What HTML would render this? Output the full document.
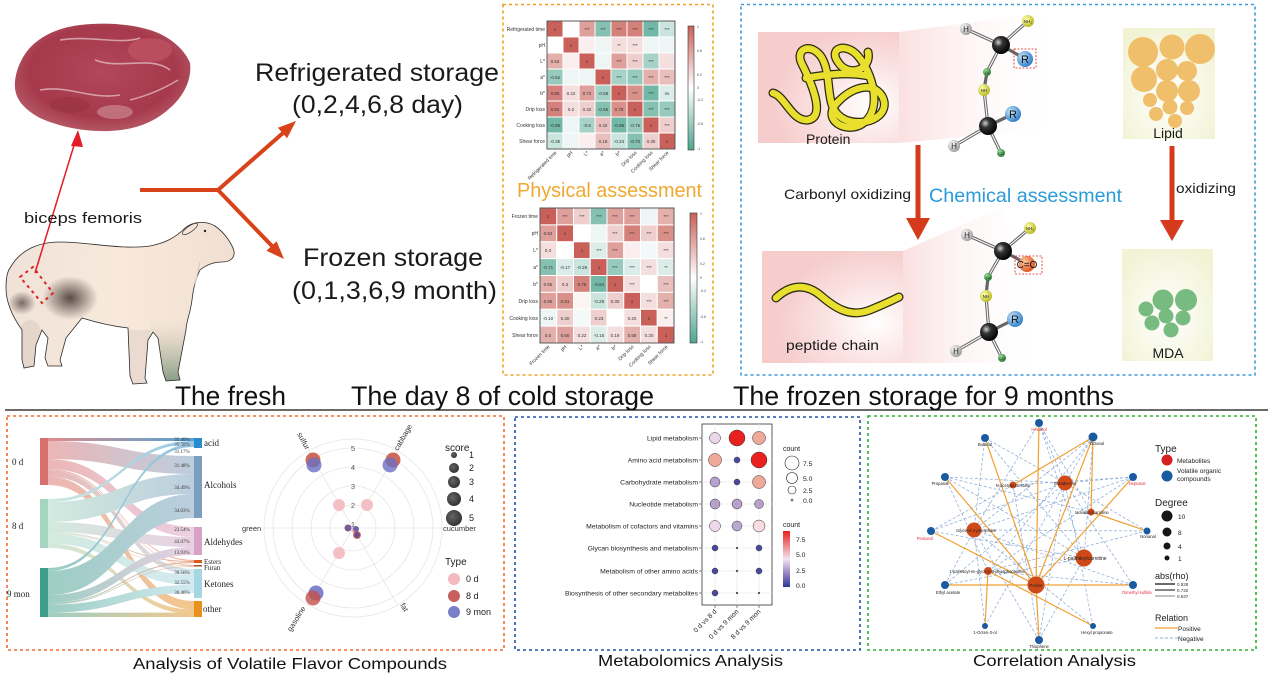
<!DOCTYPE html>
<html><head><meta charset="utf-8"><style>
html,body{margin:0;padding:0;background:#fff;}
svg{display:block;font-family:"Liberation Sans",sans-serif;}
.serif{font-family:"Liberation Serif",serif;}
</style></head><body>
<svg width="1270" height="676" viewBox="0 0 1270 676" xmlns="http://www.w3.org/2000/svg">
<defs>
<radialGradient id="meatG" cx="0.5" cy="0.45" r="0.6"><stop offset="0" stop-color="#b2465a"/><stop offset="0.7" stop-color="#a63a4c"/><stop offset="1" stop-color="#b9606c"/></radialGradient>
<linearGradient id="sheepG" x1="0" x2="1"><stop offset="0" stop-color="#efe2d8"/><stop offset="0.5" stop-color="#f8e9dc"/><stop offset="1" stop-color="#f1e0d2"/></linearGradient>
<radialGradient id="shadeA" cx="0.5" cy="0.5" r="0.5"><stop offset="0" stop-color="#4a3c34" stop-opacity="0.9"/><stop offset="1" stop-color="#4a3c34" stop-opacity="0"/></radialGradient>
<linearGradient id="legG" x1="0" y1="0" x2="0" y2="1"><stop offset="0" stop-color="#c8c2b0" stop-opacity="0"/><stop offset="1" stop-color="#7e9880"/></linearGradient>
<linearGradient id="cb1" x1="0" y1="0" x2="0" y2="1"><stop offset="0" stop-color="#c9605a"/><stop offset="0.5" stop-color="#ffffff"/><stop offset="1" stop-color="#4fa690"/></linearGradient>
<radialGradient id="protG" cx="0.8" cy="0.65" r="0.7"><stop offset="0" stop-color="#ffffff"/><stop offset="0.5" stop-color="#fbe3e3"/><stop offset="1" stop-color="#f6cccc"/></radialGradient>
<linearGradient id="fanG" x1="0" x2="1"><stop offset="0" stop-color="#fbe0e0"/><stop offset="1" stop-color="#ffffff" stop-opacity="0"/></linearGradient>
<radialGradient id="lipG" cx="0.5" cy="0.6" r="0.65"><stop offset="0" stop-color="#ffffff"/><stop offset="1" stop-color="#f1f3d4"/></radialGradient>
<radialGradient id="gBlack" cx="0.35" cy="0.35" r="0.7"><stop offset="0" stop-color="#d0d0d0"/><stop offset="0.35" stop-color="#333"/><stop offset="1" stop-color="#000"/></radialGradient>
<radialGradient id="gGray" cx="0.35" cy="0.35" r="0.7"><stop offset="0" stop-color="#ffffff"/><stop offset="1" stop-color="#9a9a9a"/></radialGradient>
<radialGradient id="gYel" cx="0.35" cy="0.35" r="0.7"><stop offset="0" stop-color="#ffffb0"/><stop offset="1" stop-color="#b8b820"/></radialGradient>
<radialGradient id="gBlue" cx="0.35" cy="0.35" r="0.7"><stop offset="0" stop-color="#c8e4f8"/><stop offset="1" stop-color="#2a7cc8"/></radialGradient>
<radialGradient id="gGreen" cx="0.35" cy="0.35" r="0.7"><stop offset="0" stop-color="#a0e0a0"/><stop offset="1" stop-color="#237a2a"/></radialGradient>
<radialGradient id="gOr" cx="0.35" cy="0.35" r="0.7"><stop offset="0" stop-color="#ffc8a0"/><stop offset="1" stop-color="#e0501a"/></radialGradient>
<linearGradient id="mcb" x1="0" y1="0" x2="0" y2="1"><stop offset="0" stop-color="#e82020"/><stop offset="0.5" stop-color="#f4e4f0"/><stop offset="0.75" stop-color="#9a86c4"/><stop offset="1" stop-color="#2a3a98"/></linearGradient>
<radialGradient id="scoreG" cx="0.4" cy="0.4" r="0.6"><stop offset="0" stop-color="#666"/><stop offset="1" stop-color="#333"/></radialGradient>
<!-- sankey gradients -->
<linearGradient id="s0a"><stop offset="0" stop-color="#d87070"/><stop offset="1" stop-color="#2a8ccc"/></linearGradient>
<linearGradient id="s0l"><stop offset="0" stop-color="#d87070"/><stop offset="1" stop-color="#7a9ebe"/></linearGradient>
<linearGradient id="s0d"><stop offset="0" stop-color="#d87070"/><stop offset="1" stop-color="#d8a2c8"/></linearGradient>
<linearGradient id="s0e"><stop offset="0" stop-color="#d87070"/><stop offset="1" stop-color="#d85a20"/></linearGradient>
<linearGradient id="s0k"><stop offset="0" stop-color="#d87070"/><stop offset="1" stop-color="#a6d6e2"/></linearGradient>
<linearGradient id="s0o"><stop offset="0" stop-color="#d87070"/><stop offset="1" stop-color="#e8921e"/></linearGradient>
<linearGradient id="s8a"><stop offset="0" stop-color="#a6d6c0"/><stop offset="1" stop-color="#2a8ccc"/></linearGradient>
<linearGradient id="s8l"><stop offset="0" stop-color="#a6d6c0"/><stop offset="1" stop-color="#7a9ebe"/></linearGradient>
<linearGradient id="s8d"><stop offset="0" stop-color="#a6d6c0"/><stop offset="1" stop-color="#d8a2c8"/></linearGradient>
<linearGradient id="s8e"><stop offset="0" stop-color="#a6d6c0"/><stop offset="1" stop-color="#d85a20"/></linearGradient>
<linearGradient id="s8k"><stop offset="0" stop-color="#a6d6c0"/><stop offset="1" stop-color="#a6d6e2"/></linearGradient>
<linearGradient id="s8o"><stop offset="0" stop-color="#a6d6c0"/><stop offset="1" stop-color="#e8921e"/></linearGradient>
<linearGradient id="s9a"><stop offset="0" stop-color="#3e9e8a"/><stop offset="1" stop-color="#2a8ccc"/></linearGradient>
<linearGradient id="s9l"><stop offset="0" stop-color="#3e9e8a"/><stop offset="1" stop-color="#7a9ebe"/></linearGradient>
<linearGradient id="s9d"><stop offset="0" stop-color="#3e9e8a"/><stop offset="1" stop-color="#d8a2c8"/></linearGradient>
<linearGradient id="s9e"><stop offset="0" stop-color="#3e9e8a"/><stop offset="1" stop-color="#d85a20"/></linearGradient>
<linearGradient id="s9k"><stop offset="0" stop-color="#3e9e8a"/><stop offset="1" stop-color="#a6d6e2"/></linearGradient>
<linearGradient id="s9o"><stop offset="0" stop-color="#3e9e8a"/><stop offset="1" stop-color="#e8921e"/></linearGradient>
<clipPath id="sheepClip"><path d="M10,268 C20,250 38,242 60,242 C90,242 120,250 150,246 C165,243 175,238 185,228 C192,222 205,220 215,226 C225,233 232,244 234,251 C235,258 230,262 222,262 C212,262 205,266 200,270 C195,280 193,290 192,300 C190,315 186,322 186,330 L178,372 L180,380 L166,381 L163,372 L158,338 L153,332 L148,340 L145,378 L147,383 L133,384 L130,376 L128,328 C110,326 95,322 82,318 L66,338 L60,360 L62,366 L48,366 L45,358 L48,338 L42,330 L36,345 L34,366 L24,368 L22,360 L22,330 C12,316 6,302 6,288 C6,278 7,272 10,268 Z"/></clipPath>
</defs>

<rect x="0" y="0" width="1270" height="676" fill="#fff"/>

<!-- ================= MEAT ================= -->
<path d="M15,88 C14,75 20,60 28,50 C38,38 55,28 80,25 C105,22 130,24 150,30 C170,36 185,50 190,63 C192,78 185,95 170,108 C155,122 135,130 110,131 C85,132 60,127 40,118 C25,110 16,100 15,88 Z" fill="url(#meatG)"/>
<path d="M60,40 C90,35 120,45 140,38 M95,60 C120,70 150,55 170,70 M40,90 C70,85 90,100 120,95 M130,100 C150,95 165,88 178,80" stroke="#e8c8cc" stroke-width="1.6" fill="none" opacity="0.7"/>
<ellipse cx="150" cy="50" rx="22" ry="12" fill="#c55a6a" opacity="0.6"/>
<ellipse cx="70" cy="105" rx="20" ry="8" fill="#93303f" opacity="0.5"/>
<ellipse cx="115" cy="112" rx="18" ry="7" fill="#e0b0b8" opacity="0.45"/>

<!-- ================= SHEEP ================= -->
<g>
<path d="M10,268 C20,250 38,242 60,242 C90,242 120,250 150,246 C165,243 175,238 185,228 C192,222 205,220 215,226 C225,233 232,244 234,251 C235,258 230,262 222,262 C212,262 205,266 200,270 C195,280 193,290 192,300 C190,315 186,322 186,330 L178,372 L180,380 L166,381 L163,372 L158,338 L153,332 L148,340 L145,378 L147,383 L133,384 L130,376 L128,328 C110,326 95,322 82,318 L66,338 L60,360 L62,366 L48,366 L45,358 L48,338 L42,330 L36,345 L34,366 L24,368 L22,360 L22,330 C12,316 6,302 6,288 C6,278 7,272 10,268 Z" fill="url(#sheepG)"/>
<g clip-path="url(#sheepClip)">
<ellipse cx="70" cy="298" rx="28" ry="22" fill="url(#shadeA)"/>
<ellipse cx="22" cy="303" rx="14" ry="12" fill="url(#shadeA)" opacity="0.8"/>
<rect x="150" y="320" width="40" height="64" fill="url(#legG)"/>
<rect x="125" y="330" width="25" height="55" fill="#d8c8c0" opacity="0.4"/>
<ellipse cx="30" cy="345" rx="14" ry="25" fill="#d8c8bc" opacity="0.5"/>
</g>
<path d="M10,268 C20,250 38,242 60,242 C90,242 120,250 150,246 C165,243 175,238 185,228 C192,222 205,220 215,226 C225,233 232,244 234,251 C235,258 230,262 222,262 C212,262 205,266 200,270 C195,280 193,290 192,300 C190,315 186,322 186,330 L178,372 L180,380 L166,381 L163,372 L158,338 L153,332 L148,340 L145,378 L147,383 L133,384 L130,376 L128,328 C110,326 95,322 82,318 L66,338 L60,360 L62,366 L48,366 L45,358 L48,338 L42,330 L36,345 L34,366 L24,368 L22,360 L22,330 C12,316 6,302 6,288 C6,278 7,272 10,268 Z" fill="none" stroke="#2a2a2a" stroke-width="0.8"/>
<ellipse cx="190" cy="229" rx="9" ry="3" transform="rotate(-35 190 229)" fill="#f6e6da" stroke="#333" stroke-width="0.7"/>
<circle cx="205" cy="231" r="1.2" fill="#222"/>
<path d="M200,262 L195,285" stroke="#d8c6b8" stroke-width="1"/>
</g>
<!-- red dashed rectangle on sheep -->
<polygon points="20,277 33,267 53,293 42,303" fill="none" stroke="#e01e24" stroke-width="2" stroke-dasharray="3,4"/>
<!-- red thin arrow -->
<line x1="35" y1="273" x2="75" y2="142" stroke="#e01e24" stroke-width="1.5"/>
<polygon points="78,130 71,146 83,147" fill="#e01e24"/>
<text x="24" y="223" font-size="15" fill="#1a1a1a" textLength="118" lengthAdjust="spacingAndGlyphs">biceps femoris</text>

<!-- big orange branching arrow -->
<g stroke="#d8431a" stroke-width="4" fill="none">
<line x1="140" y1="190" x2="219" y2="190"/>
<line x1="218" y1="190" x2="283" y2="133"/>
<line x1="218" y1="190" x2="272" y2="246"/>
</g>
<polygon points="296,121 287.1,138.2 277.9,127.7" fill="#d8431a"/>
<polygon points="284,259 266.5,250.8 276.6,241.2" fill="#d8431a"/>

<text x="255" y="81" font-size="25" fill="#1a1a1a" textLength="244" lengthAdjust="spacingAndGlyphs">Refrigerated storage</text>
<text x="292" y="113" font-size="25" fill="#1a1a1a" textLength="171" lengthAdjust="spacingAndGlyphs">(0,2,4,6,8 day)</text>
<text x="303" y="266" font-size="25" fill="#1a1a1a" textLength="180" lengthAdjust="spacingAndGlyphs">Frozen storage</text>
<text x="292" y="299" font-size="25" fill="#1a1a1a" textLength="205" lengthAdjust="spacingAndGlyphs">(0,1,3,6,9 month)</text>

<!-- ================= PHYSICAL ASSESSMENT ================= -->
<rect x="503" y="4.5" width="210" height="370.5" fill="none" stroke="#f0a020" stroke-width="1.6" stroke-dasharray="3,3"/>
<!-- heatmap 1 -->
<g stroke="#fff" stroke-width="1">
<rect x="547" y="21" width="16" height="16" fill="#c9605a"/><rect x="563" y="21" width="16" height="16" fill="#ffffff"/><rect x="579" y="21" width="16" height="16" fill="#dfa09c"/><rect x="595" y="21" width="16" height="16" fill="#84c1b1"/><rect x="611" y="21" width="16" height="16" fill="#d4807b"/><rect x="627" y="21" width="16" height="16" fill="#d4807b"/><rect x="643" y="21" width="16" height="16" fill="#72b8a6"/><rect x="659" y="21" width="16" height="16" fill="#cae4de"/>
<rect x="547" y="37" width="16" height="16" fill="#ffffff"/><rect x="563" y="37" width="16" height="16" fill="#c9605a"/><rect x="579" y="37" width="16" height="16" fill="#faefee"/><rect x="595" y="37" width="16" height="16" fill="#edf6f4"/><rect x="611" y="37" width="16" height="16" fill="#f4dfde"/><rect x="627" y="37" width="16" height="16" fill="#f4dfde"/><rect x="643" y="37" width="16" height="16" fill="#edf6f4"/><rect x="659" y="37" width="16" height="16" fill="#edf6f4"/>
<rect x="547" y="53" width="16" height="16" fill="#e4b0ac"/><rect x="563" y="53" width="16" height="16" fill="#faefee"/><rect x="579" y="53" width="16" height="16" fill="#c9605a"/><rect x="595" y="53" width="16" height="16" fill="#edf6f4"/><rect x="611" y="53" width="16" height="16" fill="#dfa09c"/><rect x="627" y="53" width="16" height="16" fill="#efcfcd"/><rect x="643" y="53" width="16" height="16" fill="#a7d2c7"/><rect x="659" y="53" width="16" height="16" fill="#f4dfde"/>
<rect x="547" y="69" width="16" height="16" fill="#95cabc"/><rect x="563" y="69" width="16" height="16" fill="#edf6f4"/><rect x="579" y="69" width="16" height="16" fill="#edf6f4"/><rect x="595" y="69" width="16" height="16" fill="#c9605a"/><rect x="611" y="69" width="16" height="16" fill="#a7d2c7"/><rect x="627" y="69" width="16" height="16" fill="#95cabc"/><rect x="643" y="69" width="16" height="16" fill="#e4b0ac"/><rect x="659" y="69" width="16" height="16" fill="#e9bfbd"/>
<rect x="547" y="85" width="16" height="16" fill="#d4807b"/><rect x="563" y="85" width="16" height="16" fill="#f4dfde"/><rect x="579" y="85" width="16" height="16" fill="#dfa09c"/><rect x="595" y="85" width="16" height="16" fill="#a7d2c7"/><rect x="611" y="85" width="16" height="16" fill="#c9605a"/><rect x="627" y="85" width="16" height="16" fill="#d99089"/><rect x="643" y="85" width="16" height="16" fill="#72b8a6"/><rect x="659" y="85" width="16" height="16" fill="#dcede9"/>
<rect x="547" y="101" width="16" height="16" fill="#d4807b"/><rect x="563" y="101" width="16" height="16" fill="#f4dfde"/><rect x="579" y="101" width="16" height="16" fill="#efcfcd"/><rect x="595" y="101" width="16" height="16" fill="#84c1b1"/><rect x="611" y="101" width="16" height="16" fill="#d99089"/><rect x="627" y="101" width="16" height="16" fill="#c9605a"/><rect x="643" y="101" width="16" height="16" fill="#84c1b1"/><rect x="659" y="101" width="16" height="16" fill="#95cabc"/>
<rect x="547" y="117" width="16" height="16" fill="#72b8a6"/><rect x="563" y="117" width="16" height="16" fill="#edf6f4"/><rect x="579" y="117" width="16" height="16" fill="#a7d2c7"/><rect x="595" y="117" width="16" height="16" fill="#e9bfbd"/><rect x="611" y="117" width="16" height="16" fill="#72b8a6"/><rect x="627" y="117" width="16" height="16" fill="#95cabc"/><rect x="643" y="117" width="16" height="16" fill="#c9605a"/><rect x="659" y="117" width="16" height="16" fill="#efcfcd"/>
<rect x="547" y="133" width="16" height="16" fill="#cae4de"/><rect x="563" y="133" width="16" height="16" fill="#edf6f4"/><rect x="579" y="133" width="16" height="16" fill="#faefee"/><rect x="595" y="133" width="16" height="16" fill="#e9bfbd"/><rect x="611" y="133" width="16" height="16" fill="#cae4de"/><rect x="627" y="133" width="16" height="16" fill="#84c1b1"/><rect x="643" y="133" width="16" height="16" fill="#efcfcd"/><rect x="659" y="133" width="16" height="16" fill="#c9605a"/>
</g>
<rect x="547" y="21" width="128" height="128" fill="none" stroke="#333" stroke-width="0.8"/>
<g font-size="4.5" fill="#333" text-anchor="middle">
<text x="555" y="31">1</text><text x="571" y="47">1</text><text x="587" y="63">1</text><text x="603" y="79">1</text><text x="619" y="95">1</text><text x="635" y="111">1</text><text x="651" y="127">1</text><text x="667" y="143">1</text>
<text x="587" y="31">***</text><text x="603" y="31">***</text><text x="619" y="31">***</text><text x="635" y="31">***</text><text x="651" y="31">***</text><text x="667" y="31">***</text>
<text x="619" y="47">**</text><text x="635" y="47">***</text><text x="619" y="63">***</text><text x="635" y="63">***</text><text x="651" y="63">***</text>
<text x="619" y="79">***</text><text x="635" y="79">***</text><text x="651" y="79">***</text><text x="667" y="79">***</text>
<text x="635" y="95">***</text><text x="651" y="95">***</text><text x="667" y="95">ns</text>
<text x="651" y="111">***</text><text x="667" y="111">***</text><text x="667" y="127">***</text>
<text x="555" y="63">0.52</text><text x="555" y="79">-0.62</text><text x="555" y="95">0.80</text><text x="571" y="95">0.22</text><text x="587" y="95">0.72</text><text x="603" y="95">-0.58</text>
<text x="555" y="111">0.81</text><text x="571" y="111">0.2</text><text x="587" y="111">0.32</text><text x="603" y="111">-0.65</text><text x="619" y="111">0.78</text>
<text x="555" y="127">-0.85</text><text x="587" y="127">-0.6</text><text x="603" y="127">0.42</text><text x="619" y="127">-0.86</text><text x="635" y="127">-0.75</text>
<text x="555" y="143">-0.35</text><text x="603" y="143">0.18</text><text x="619" y="143">-0.24</text><text x="635" y="143">-0.70</text><text x="651" y="143">0.30</text>
</g>
<g font-size="5" fill="#333" text-anchor="end">
<text x="545" y="31">Refrigerated time</text><text x="545" y="47">pH</text><text x="545" y="63">L*</text><text x="545" y="79">a*</text><text x="545" y="95">b*</text><text x="545" y="111">Drip loss</text><text x="545" y="127">Cooking loss</text><text x="545" y="143">Shear force</text>
<text transform="translate(557,153) rotate(-45)">Refrigerated time</text><text transform="translate(573,153) rotate(-45)">pH</text><text transform="translate(589,153) rotate(-45)">L*</text><text transform="translate(605,153) rotate(-45)">a*</text><text transform="translate(621,153) rotate(-45)">b*</text><text transform="translate(637,153) rotate(-45)">Drip loss</text><text transform="translate(653,153) rotate(-45)">Cooking loss</text><text transform="translate(669,153) rotate(-45)">Shear force</text>
</g>
<rect x="688" y="26" width="6" height="124" fill="url(#cb1)" stroke="#333" stroke-width="0.6"/>
<g font-size="3.5" fill="#444"><text x="697" y="28">1</text><text x="697" y="52">0.6</text><text x="697" y="76">0.2</text><text x="697" y="89">0</text><text x="697" y="101">-0.2</text><text x="697" y="125">-0.6</text><text x="697" y="150">-1</text></g>

<text x="517" y="197" font-size="20" fill="#f0a830" textLength="185" lengthAdjust="spacingAndGlyphs">Physical assessment</text>

<!-- heatmap 2 -->
<g stroke="#fff" stroke-width="1">
<rect x="540" y="208" width="16.75" height="16.9" fill="#c9605a"/><rect x="556.75" y="208" width="16.75" height="16.9" fill="#dfa09c"/><rect x="573.5" y="208" width="16.75" height="16.9" fill="#efcfcd"/><rect x="590.25" y="208" width="16.75" height="16.9" fill="#84c1b1"/><rect x="607" y="208" width="16.75" height="16.9" fill="#dfa09c"/><rect x="623.75" y="208" width="16.75" height="16.9" fill="#dfa09c"/><rect x="640.5" y="208" width="16.75" height="16.9" fill="#edf6f4"/><rect x="657.25" y="208" width="16.75" height="16.9" fill="#e4b0ac"/>
<rect x="540" y="224.9" width="16.75" height="16.9" fill="#dfa09c"/><rect x="556.75" y="224.9" width="16.75" height="16.9" fill="#c9605a"/><rect x="573.5" y="224.9" width="16.75" height="16.9" fill="#ffffff"/><rect x="590.25" y="224.9" width="16.75" height="16.9" fill="#edf6f4"/><rect x="607" y="224.9" width="16.75" height="16.9" fill="#efcfcd"/><rect x="623.75" y="224.9" width="16.75" height="16.9" fill="#d4807b"/><rect x="640.5" y="224.9" width="16.75" height="16.9" fill="#efcfcd"/><rect x="657.25" y="224.9" width="16.75" height="16.9" fill="#d99089"/>
<rect x="540" y="241.8" width="16.75" height="16.9" fill="#f4dfde"/><rect x="556.75" y="241.8" width="16.75" height="16.9" fill="#ffffff"/><rect x="573.5" y="241.8" width="16.75" height="16.9" fill="#c9605a"/><rect x="590.25" y="241.8" width="16.75" height="16.9" fill="#dcede9"/><rect x="607" y="241.8" width="16.75" height="16.9" fill="#dfa09c"/><rect x="623.75" y="241.8" width="16.75" height="16.9" fill="#faefee"/><rect x="640.5" y="241.8" width="16.75" height="16.9" fill="#f3f9f8"/><rect x="657.25" y="241.8" width="16.75" height="16.9" fill="#f4dfde"/>
<rect x="540" y="258.6" width="16.75" height="16.9" fill="#84c1b1"/><rect x="556.75" y="258.6" width="16.75" height="16.9" fill="#dcede9"/><rect x="573.5" y="258.6" width="16.75" height="16.9" fill="#cae4de"/><rect x="590.25" y="258.6" width="16.75" height="16.9" fill="#c9605a"/><rect x="607" y="258.6" width="16.75" height="16.9" fill="#95cabc"/><rect x="623.75" y="258.6" width="16.75" height="16.9" fill="#dcede9"/><rect x="640.5" y="258.6" width="16.75" height="16.9" fill="#f4dfde"/><rect x="657.25" y="258.6" width="16.75" height="16.9" fill="#dcede9"/>
<rect x="540" y="275.5" width="16.75" height="16.9" fill="#e4b0ac"/><rect x="556.75" y="275.5" width="16.75" height="16.9" fill="#efcfcd"/><rect x="573.5" y="275.5" width="16.75" height="16.9" fill="#d4807b"/><rect x="590.25" y="275.5" width="16.75" height="16.9" fill="#72b8a6"/><rect x="607" y="275.5" width="16.75" height="16.9" fill="#c9605a"/><rect x="623.75" y="275.5" width="16.75" height="16.9" fill="#f4dfde"/><rect x="640.5" y="275.5" width="16.75" height="16.9" fill="#ffffff"/><rect x="657.25" y="275.5" width="16.75" height="16.9" fill="#e9bfbd"/>
<rect x="540" y="292.4" width="16.75" height="16.9" fill="#dfa09c"/><rect x="556.75" y="292.4" width="16.75" height="16.9" fill="#d99089"/><rect x="573.5" y="292.4" width="16.75" height="16.9" fill="#fcf4f3"/><rect x="590.25" y="292.4" width="16.75" height="16.9" fill="#cae4de"/><rect x="607" y="292.4" width="16.75" height="16.9" fill="#efcfcd"/><rect x="623.75" y="292.4" width="16.75" height="16.9" fill="#c9605a"/><rect x="640.5" y="292.4" width="16.75" height="16.9" fill="#f4dfde"/><rect x="657.25" y="292.4" width="16.75" height="16.9" fill="#e4b0ac"/>
<rect x="540" y="309.3" width="16.75" height="16.9" fill="#edf6f4"/><rect x="556.75" y="309.3" width="16.75" height="16.9" fill="#efcfcd"/><rect x="573.5" y="309.3" width="16.75" height="16.9" fill="#f3f9f8"/><rect x="590.25" y="309.3" width="16.75" height="16.9" fill="#efcfcd"/><rect x="607" y="309.3" width="16.75" height="16.9" fill="#ffffff"/><rect x="623.75" y="309.3" width="16.75" height="16.9" fill="#f4dfde"/><rect x="640.5" y="309.3" width="16.75" height="16.9" fill="#c9605a"/><rect x="657.25" y="309.3" width="16.75" height="16.9" fill="#faefee"/>
<rect x="540" y="326.1" width="16.75" height="16.9" fill="#e4b0ac"/><rect x="556.75" y="326.1" width="16.75" height="16.9" fill="#dfa09c"/><rect x="573.5" y="326.1" width="16.75" height="16.9" fill="#f4dfde"/><rect x="590.25" y="326.1" width="16.75" height="16.9" fill="#dcede9"/><rect x="607" y="326.1" width="16.75" height="16.9" fill="#f4dfde"/><rect x="623.75" y="326.1" width="16.75" height="16.9" fill="#e4b0ac"/><rect x="640.5" y="326.1" width="16.75" height="16.9" fill="#f4dfde"/><rect x="657.25" y="326.1" width="16.75" height="16.9" fill="#c9605a"/>
</g>
<rect x="540" y="208" width="134" height="135" fill="none" stroke="#333" stroke-width="0.8"/>
<g font-size="4.5" fill="#333" text-anchor="middle">
<text x="548" y="218">1</text><text x="565" y="235">1</text><text x="582" y="252">1</text><text x="599" y="269">1</text><text x="615" y="286">1</text><text x="632" y="303">1</text><text x="649" y="320">1</text><text x="666" y="337">1</text>
<text x="565" y="218">***</text><text x="582" y="218">***</text><text x="599" y="218">***</text><text x="615" y="218">***</text><text x="632" y="218">***</text><text x="666" y="218">***</text>
<text x="615" y="235">***</text><text x="632" y="235">***</text><text x="649" y="235">***</text><text x="666" y="235">***</text>
<text x="599" y="252">***</text><text x="615" y="252">***</text><text x="666" y="252">***</text>
<text x="615" y="269">***</text><text x="632" y="269">***</text><text x="649" y="269">***</text><text x="666" y="269">**</text>
<text x="632" y="286">***</text><text x="666" y="286">***</text><text x="649" y="303">***</text><text x="666" y="303">***</text><text x="666" y="320">**</text>
<text x="548" y="235">0.62</text><text x="548" y="252">0.3</text><text x="548" y="269">-0.71</text><text x="565" y="269">-0.17</text><text x="582" y="269">-0.29</text>
<text x="548" y="286">0.55</text><text x="565" y="286">0.3</text><text x="582" y="286">0.76</text><text x="599" y="286">-0.84</text>
<text x="548" y="303">0.65</text><text x="565" y="303">0.81</text><text x="599" y="303">-0.29</text><text x="615" y="303">0.30</text>
<text x="548" y="320">-0.10</text><text x="565" y="320">0.30</text><text x="599" y="320">0.23</text><text x="632" y="320">0.20</text>
<text x="548" y="337">0.5</text><text x="565" y="337">0.60</text><text x="582" y="337">0.22</text><text x="599" y="337">-0.15</text><text x="615" y="337">0.19</text><text x="632" y="337">0.55</text><text x="649" y="337">0.20</text>
</g>
<g font-size="5" fill="#333" text-anchor="end">
<text x="538" y="218">Frozen time</text><text x="538" y="235">pH</text><text x="538" y="252">L*</text><text x="538" y="269">a*</text><text x="538" y="286">b*</text><text x="538" y="303">Drip loss</text><text x="538" y="320">Cooking loss</text><text x="538" y="337">Shear force</text>
<text transform="translate(550,347) rotate(-45)">Frozen time</text><text transform="translate(567,347) rotate(-45)">pH</text><text transform="translate(584,347) rotate(-45)">L*</text><text transform="translate(601,347) rotate(-45)">a*</text><text transform="translate(617,347) rotate(-45)">b*</text><text transform="translate(634,347) rotate(-45)">Drip loss</text><text transform="translate(651,347) rotate(-45)">Cooking loss</text><text transform="translate(668,347) rotate(-45)">Shear force</text>
</g>
<rect x="690" y="213" width="7" height="130" fill="url(#cb1)" stroke="#333" stroke-width="0.6"/>
<g font-size="3.5" fill="#444"><text x="700" y="215">1</text><text x="700" y="240">0.6</text><text x="700" y="265">0.2</text><text x="700" y="279">0</text><text x="700" y="292">-0.2</text><text x="700" y="318">-0.6</text><text x="700" y="343">-1</text></g>

<!-- ================= CHEMICAL ASSESSMENT ================= -->
<rect x="741" y="4.5" width="514" height="370.5" fill="none" stroke="#3a9ad9" stroke-width="1.6" stroke-dasharray="3,3"/>
<!-- protein fan and box -->
<polygon points="899,32 1050,12 1060,128 899,143" fill="url(#fanG)"/>
<rect x="758" y="32" width="141" height="111" fill="url(#protG)"/>
<path d="M773,93 C785,96 792,122 808,120 C826,117 812,84 802,64 C794,48 812,42 822,58 C834,80 822,110 846,120 C868,128 892,114 882,96 C872,80 850,88 836,104 C822,120 846,134 862,124 C884,110 872,72 858,56 C846,42 828,48 838,62 C848,78 872,70 868,52 M806,78 C830,74 850,72 868,76" fill="none" stroke="#2a2a12" stroke-width="9" stroke-linecap="round"/>
<path d="M773,93 C785,96 792,122 808,120 C826,117 812,84 802,64 C794,48 812,42 822,58 C834,80 822,110 846,120 C868,128 892,114 882,96 C872,80 850,88 836,104 C822,120 846,134 862,124 C884,110 872,72 858,56 C846,42 828,48 838,62 C848,78 872,70 868,52 M806,78 C830,74 850,72 868,76" fill="none" stroke="#e8df2e" stroke-width="6.5" stroke-linecap="round"/>
<text x="806" y="144" font-size="14" fill="#1a1a1a">Protein</text>

<!-- top molecule -->
<g stroke-linecap="round">
<g stroke="#666" stroke-width="3.2"><line x1="1001" y1="45" x2="966" y2="29"/><line x1="1001" y1="45" x2="1028" y2="21"/><line x1="1001" y1="45" x2="1025" y2="59"/><line x1="1001" y1="45" x2="987" y2="72"/><line x1="987" y1="72" x2="984" y2="90"/><line x1="984" y1="90" x2="988" y2="126"/><line x1="988" y1="126" x2="1013" y2="114"/><line x1="988" y1="126" x2="954" y2="146"/><line x1="988" y1="126" x2="1001" y2="153"/></g>
<g stroke="#fff" stroke-width="1.1"><line x1="1001" y1="45" x2="966" y2="29"/><line x1="1001" y1="45" x2="1028" y2="21"/><line x1="1001" y1="45" x2="987" y2="72"/><line x1="984" y1="90" x2="988" y2="126"/><line x1="988" y1="126" x2="954" y2="146"/><line x1="988" y1="126" x2="1001" y2="153"/></g>
</g>
<circle cx="966" cy="29" r="6" fill="url(#gGray)"/><text x="966" y="32" font-size="8" text-anchor="middle" fill="#222">H</text>
<circle cx="1028" cy="21" r="6" fill="url(#gYel)"/><text x="1028" y="23" font-size="4.5" text-anchor="middle" fill="#222">NH₂</text>
<circle cx="1001" cy="45" r="9" fill="url(#gBlack)"/>
<circle cx="1025" cy="59" r="8" fill="url(#gBlue)"/><text x="1025" y="63" font-size="11" text-anchor="middle" fill="#111">R</text>
<rect x="1014" y="49" width="22" height="19" fill="none" stroke="#e02020" stroke-width="0.8" stroke-dasharray="2,1.5"/>
<circle cx="987" cy="72" r="4" fill="url(#gGreen)"/><text x="987" y="74" font-size="3.5" text-anchor="middle" fill="#111">Co</text>
<circle cx="984" cy="90" r="6" fill="url(#gYel)"/><text x="984" y="92" font-size="4.5" text-anchor="middle" fill="#222">NH</text>
<circle cx="988" cy="126" r="9" fill="url(#gBlack)"/>
<circle cx="1013" cy="114" r="8" fill="url(#gBlue)"/><text x="1013" y="118" font-size="11" text-anchor="middle" fill="#111">R</text>
<circle cx="954" cy="146" r="6" fill="url(#gGray)"/><text x="954" y="149" font-size="8" text-anchor="middle" fill="#222">H</text>
<circle cx="1001" cy="153" r="4" fill="url(#gGreen)"/><text x="1001" y="155" font-size="3.5" text-anchor="middle" fill="#111">CO</text>

<!-- arrows -->
<rect x="915.5" y="145" width="5" height="76" fill="#d63a1c"/>
<polygon points="906,218 930,218 918,240" fill="#d63a1c"/>
<rect x="1169.5" y="146" width="5" height="77" fill="#d63a1c"/>
<polygon points="1160,220 1184,220 1172,241" fill="#d63a1c"/>
<text x="784" y="199" font-size="14" fill="#1a1a1a" textLength="127" lengthAdjust="spacingAndGlyphs">Carbonyl oxidizing</text>
<text x="929" y="202" font-size="19.5" fill="#2b9ad8" textLength="193" lengthAdjust="spacingAndGlyphs">Chemical assessment</text>
<text x="1176" y="193" font-size="14" fill="#1a1a1a" textLength="60" lengthAdjust="spacingAndGlyphs">oxidizing</text>

<!-- peptide fan and box -->
<polygon points="903,251 1000,208 1045,300 1042,363 903,363" fill="url(#fanG)"/>
<rect x="762" y="251" width="141" height="112" fill="url(#protG)"/>
<path d="M776,298 C790,285 805,283 820,295 C835,308 850,318 870,310 C885,304 893,300 899,297" fill="none" stroke="#2a2a12" stroke-width="9" stroke-linecap="round"/>
<path d="M776,298 C790,285 805,283 820,295 C835,308 850,318 870,310 C885,304 893,300 899,297" fill="none" stroke="#e8df2e" stroke-width="6.5" stroke-linecap="round"/>
<text x="786" y="350" font-size="14" fill="#1a1a1a" textLength="93" lengthAdjust="spacingAndGlyphs">peptide chain</text>

<!-- bottom molecule -->
<g stroke-linecap="round">
<g stroke="#666" stroke-width="3.2"><line x1="1003" y1="251" x2="967" y2="235"/><line x1="1003" y1="251" x2="1030" y2="228"/><line x1="1003" y1="251" x2="1027" y2="264"/><line x1="1003" y1="251" x2="988" y2="277"/><line x1="988" y1="277" x2="986" y2="296"/><line x1="986" y1="296" x2="989" y2="332"/><line x1="989" y1="332" x2="1015" y2="319"/><line x1="989" y1="332" x2="956" y2="351"/><line x1="989" y1="332" x2="1002" y2="358"/></g>
<g stroke="#fff" stroke-width="1.1"><line x1="1003" y1="251" x2="967" y2="235"/><line x1="1003" y1="251" x2="1030" y2="228"/><line x1="1003" y1="251" x2="988" y2="277"/><line x1="986" y1="296" x2="989" y2="332"/><line x1="989" y1="332" x2="956" y2="351"/><line x1="989" y1="332" x2="1002" y2="358"/></g>
</g>
<circle cx="967" cy="235" r="6" fill="url(#gGray)"/><text x="967" y="238" font-size="8" text-anchor="middle" fill="#222">H</text>
<circle cx="1030" cy="228" r="6" fill="url(#gYel)"/><text x="1030" y="230" font-size="4.5" text-anchor="middle" fill="#222">NH₂</text>
<circle cx="1003" cy="251" r="9" fill="url(#gBlack)"/>
<circle cx="1027" cy="264" r="8" fill="url(#gOr)"/><text x="1027" y="268" font-size="10" text-anchor="middle" fill="#111">C=O</text>
<rect x="1015" y="256" width="27" height="18" fill="none" stroke="#e02020" stroke-width="0.8" stroke-dasharray="2,1.5"/>
<circle cx="988" cy="277" r="4" fill="url(#gGreen)"/><text x="988" y="279" font-size="3.5" text-anchor="middle" fill="#111">Co</text>
<circle cx="986" cy="296" r="6" fill="url(#gYel)"/><text x="986" y="298" font-size="4.5" text-anchor="middle" fill="#222">NH</text>
<circle cx="989" cy="332" r="9" fill="url(#gBlack)"/>
<circle cx="1015" cy="319" r="8" fill="url(#gBlue)"/><text x="1015" y="323" font-size="11" text-anchor="middle" fill="#111">R</text>
<circle cx="956" cy="351" r="6" fill="url(#gGray)"/><text x="956" y="354" font-size="8" text-anchor="middle" fill="#222">H</text>
<circle cx="1002" cy="358" r="4" fill="url(#gGreen)"/><text x="1002" y="360" font-size="3.5" text-anchor="middle" fill="#111">CO</text>

<!-- lipid -->
<rect x="1123" y="28" width="92" height="111" fill="url(#lipG)"/>
<g fill="#f0bf6c">
<circle cx="1143" cy="52" r="15"/><circle cx="1172" cy="47" r="12.5"/><circle cx="1200" cy="49" r="15"/>
<circle cx="1144" cy="79" r="13"/><circle cx="1167" cy="70" r="11"/><circle cx="1187" cy="71" r="10"/>
<circle cx="1167" cy="91" r="11"/><circle cx="1189" cy="91" r="11"/>
<circle cx="1150" cy="100" r="7"/><circle cx="1170" cy="107" r="7.5"/><circle cx="1187" cy="108" r="7"/><circle cx="1156" cy="114" r="7"/><circle cx="1175" cy="121" r="7"/>
</g>
<text x="1168" y="138" font-size="14" text-anchor="middle" fill="#1a1a1a">Lipid</text>
<!-- MDA -->
<rect x="1122" y="249" width="91" height="112" fill="url(#lipG)"/>
<g fill="#78bb80">
<circle cx="1163" cy="300" r="10.5"/><circle cx="1186" cy="300" r="11"/><circle cx="1146" cy="309" r="7.5"/><circle cx="1166" cy="316" r="7.5"/><circle cx="1183" cy="318" r="7.5"/><circle cx="1152" cy="323" r="7.5"/><circle cx="1171" cy="330" r="7.5"/>
</g>
<text x="1168" y="358" font-size="14" text-anchor="middle" fill="#1a1a1a">MDA</text>

<!-- ================= TITLES ROW ================= -->
<text x="175" y="405" font-size="27" fill="#111" textLength="111" lengthAdjust="spacingAndGlyphs">The fresh</text>
<text x="351" y="405" font-size="27" fill="#111" textLength="303" lengthAdjust="spacingAndGlyphs">The day 8 of cold storage</text>
<text x="733" y="405" font-size="27" fill="#111" textLength="381" lengthAdjust="spacingAndGlyphs">The frozen storage for 9 months</text>
<line x1="5" y1="410" x2="1268" y2="410" stroke="#111" stroke-width="1.2"/>

<!-- ================= VOLATILE FLAVOR ================= -->
<rect x="7" y="416" width="497" height="234" fill="none" stroke="#f06a30" stroke-width="1.6" stroke-dasharray="3,3"/>
<!-- sankey flows -->
<g opacity="0.5">
<path d="M48,438 C121,438 121,438 194,438 L194,441 C121,441 121,441 48,441Z" fill="url(#s0a)" opacity="1.6"/>
<path d="M48,441 C121,441 121,456 194,456 L194,474 C121,474 121,459 48,459Z" fill="url(#s0l)"/>
<path d="M48,459 C121,459 121,527 194,527 L194,537 C121,537 121,469 48,469Z" fill="url(#s0d)"/>
<path d="M48,469 C121,469 121,560 194,560 L194,561 C121,561 121,470 48,470Z" fill="url(#s0e)"/>
<path d="M48,470 C121,470 121,565 194,565 L194,565.6 C121,565.6 121,470.6 48,470.6Z" fill="url(#s0e)"/>
<path d="M48,470.5 C121,470.5 121,569 194,569 L194,575 C121,575 121,476.5 48,476.5Z" fill="url(#s0k)"/>
<path d="M48,476.5 C121,476.5 121,601 194,601 L194,609.5 C121,609.5 121,485 48,485Z" fill="url(#s0o)"/>
<path d="M48,499 C121,499 121,441 194,441 L194,444 C121,444 121,502 48,502Z" fill="url(#s8a)"/>
<path d="M48,502 C121,502 121,474 194,474 L194,494 C121,494 121,522 48,522Z" fill="url(#s8l)"/>
<path d="M48,522 C121,522 121,537 194,537 L194,547 C121,547 121,532 48,532Z" fill="url(#s8d)"/>
<path d="M48,532 C121,532 121,561 194,561 L194,562 C121,562 121,533 48,533Z" fill="url(#s8e)"/>
<path d="M48,533 C121,533 121,565.6 194,565.6 L194,566.2 C121,566.2 121,533.6 48,533.6Z" fill="url(#s8e)"/>
<path d="M48,533.6 C121,533.6 121,575 194,575 L194,585 C121,585 121,543.6 48,543.6Z" fill="url(#s8k)"/>
<path d="M48,543.6 C121,543.6 121,609.5 194,609.5 L194,614 C121,614 121,548 48,548Z" fill="url(#s8o)"/>
<path d="M48,568 C121,568 121,444 194,444 L194,447 C121,447 121,571 48,571Z" fill="url(#s9a)"/>
<path d="M48,571 C121,571 121,494 194,494 L194,518 C121,518 121,595 48,595Z" fill="url(#s9l)"/>
<path d="M48,595 C121,595 121,547 194,547 L194,555 C121,555 121,603 48,603Z" fill="url(#s9d)"/>
<path d="M48,603 C121,603 121,562 194,562 L194,563 C121,563 121,604 48,604Z" fill="url(#s9e)"/>
<path d="M48,604 C121,604 121,566.2 194,566.2 L194,566.8 C121,566.8 121,604.6 48,604.6Z" fill="url(#s9e)"/>
<path d="M48,604.6 C121,604.6 121,585 194,585 L194,593 C121,593 121,612.6 48,612.6Z" fill="url(#s9k)"/>
<path d="M48,612.6 C121,612.6 121,612.6 194,612.6 L194,617 C121,617 121,617 48,617Z" fill="url(#s9o)"/>
</g>
<path d="M48,438 C121,438 121,438 194,438 L194,441 C121,441 121,441 48,441Z" fill="url(#s0a)" opacity="0.6"/>
<!-- sankey nodes -->
<rect x="40" y="438" width="8" height="47" fill="#d87070"/>
<rect x="40" y="499" width="8" height="49" fill="#a6d6c0"/>
<rect x="40" y="568" width="8" height="49" fill="#3e9e8a"/>
<rect x="194" y="438" width="8" height="10" fill="#2a8ccc"/>
<rect x="194" y="456" width="8" height="62" fill="#7a9ebe"/>
<rect x="194" y="527" width="8" height="28" fill="#d8a2c8"/>
<rect x="194" y="560" width="8" height="3" fill="#d85a20"/>
<rect x="194" y="565" width="8" height="1.5" fill="#a0522d"/>
<rect x="194" y="569" width="8" height="29" fill="#a6d6e2"/>
<rect x="194" y="601" width="8" height="16" fill="#e8921e"/>
<g class="serif" font-size="9" fill="#222">
<text x="12" y="465">0 d</text><text x="12" y="529">8 d</text><text x="7" y="597">9 mon</text>
<text x="204" y="446">acid</text><text x="204" y="488">Alcohols</text><text x="204" y="545">Aldehydes</text><text x="204" y="564" font-size="7">Esters</text><text x="204" y="570" font-size="7">Furan</text><text x="204" y="587">Ketones</text><text x="203" y="612">other</text>
</g>
<g class="serif" font-size="5" fill="#333" text-anchor="middle">
<text x="182" y="441">35.40%</text><text x="182" y="446">35.58%</text><text x="182" y="453">31.17%</text><text x="182" y="467">31.48%</text><text x="182" y="489">34.49%</text><text x="182" y="512">34.03%</text><text x="182" y="531">23.54%</text><text x="182" y="543">43.07%</text><text x="182" y="554">13.93%</text><text x="182" y="574">30.56%</text><text x="182" y="584">32.55%</text><text x="182" y="594">36.46%</text>
</g>

<!-- radar -->
<g fill="none" stroke="#e6e6e6" stroke-width="0.8">
<circle cx="353" cy="528" r="23"/><circle cx="353" cy="528" r="42"/><circle cx="353" cy="528" r="61"/><circle cx="353" cy="528" r="80"/><circle cx="353" cy="528" r="89"/>
<line x1="353" y1="528" x2="264" y2="528"/><line x1="353" y1="528" x2="442" y2="528"/>
<line x1="353" y1="528" x2="308.5" y2="450.9"/><line x1="353" y1="528" x2="397.5" y2="450.9"/>
<line x1="353" y1="528" x2="308.5" y2="605.1"/><line x1="353" y1="528" x2="397.5" y2="605.1"/>
</g>
<g font-size="7.5" fill="#555" text-anchor="middle"><text x="353" y="451">5</text><text x="353" y="470">4</text><text x="353" y="489">3</text><text x="353" y="508">2</text><text x="353" y="527">1</text></g>
<g font-size="7.5" fill="#333">
<text x="242" y="531">green</text><text x="443" y="531">cucumber</text>
<text transform="translate(297,434) rotate(62)">sulfur</text>
<text transform="translate(398,451) rotate(-60)">cabbage</text>
<text transform="translate(291,632) rotate(-58)">gasoline</text>
<text transform="translate(400,605) rotate(60)">fat</text>
</g>
<circle cx="339" cy="505" r="6" fill="#f4b8c0" opacity="0.9"/><circle cx="367" cy="505" r="6" fill="#f4b8c0" opacity="0.9"/><circle cx="339" cy="553" r="6" fill="#f4b8c0" opacity="0.9"/>
<circle cx="313" cy="460" r="7.5" fill="#c4503e" opacity="0.85"/><circle cx="314" cy="465" r="7.5" fill="#6a6ec4" opacity="0.8"/>
<circle cx="393" cy="460" r="7.5" fill="#c4503e" opacity="0.85"/><circle cx="390" cy="465" r="7.5" fill="#6a6ec4" opacity="0.8"/>
<circle cx="316" cy="593" r="7.5" fill="#6a6ec4" opacity="0.85"/><circle cx="313" cy="598" r="7.5" fill="#c4504a" opacity="0.8"/>
<circle cx="355" cy="530" r="3.5" fill="#f4b8c0"/><circle cx="348" cy="528" r="3.5" fill="#6a4a8c" opacity="0.9"/><circle cx="356" cy="529" r="3" fill="#5a5aa8" opacity="0.9"/><circle cx="357" cy="535" r="4" fill="#c4504a" opacity="0.8"/><circle cx="357" cy="535" r="3" fill="#5a4a90" opacity="0.85"/>
<text x="445" y="451" font-size="10" fill="#222">score</text>
<circle cx="454" cy="455" r="3" fill="url(#scoreG)"/><circle cx="454" cy="468" r="5" fill="url(#scoreG)"/><circle cx="454" cy="482" r="6" fill="url(#scoreG)"/><circle cx="454" cy="499" r="7" fill="url(#scoreG)"/><circle cx="454" cy="518" r="8" fill="url(#scoreG)"/>
<g font-size="9" fill="#222"><text x="469" y="458">1</text><text x="469" y="471">2</text><text x="469" y="485">3</text><text x="469" y="502">4</text><text x="469" y="521">5</text></g>
<text x="445" y="565" font-size="10" fill="#222">Type</text>
<circle cx="454" cy="579" r="6" fill="#f4b8c0"/><circle cx="454" cy="596" r="6" fill="#c86060"/><circle cx="454" cy="612" r="6" fill="#7a80c8"/>
<g font-size="9" fill="#222"><text x="466" y="582">0 d</text><text x="466" y="599">8 d</text><text x="466" y="615">9 mon</text></g>
<text x="133" y="669" font-size="16" fill="#111" textLength="314" lengthAdjust="spacingAndGlyphs">Analysis of Volatile Flavor Compounds</text>

<!-- ================= METABOLOMICS ================= -->
<rect x="515" y="417" width="345" height="233" fill="none" stroke="#2050a8" stroke-width="1.6" stroke-dasharray="3,3"/>
<rect x="702" y="424" width="70" height="181" fill="#fff" stroke="#333" stroke-width="0.8"/>
<g stroke="#ebebeb" stroke-width="0.7">
<line x1="702" y1="438" x2="772" y2="438"/><line x1="702" y1="460" x2="772" y2="460"/><line x1="702" y1="482" x2="772" y2="482"/><line x1="702" y1="504" x2="772" y2="504"/><line x1="702" y1="526" x2="772" y2="526"/><line x1="702" y1="548" x2="772" y2="548"/><line x1="702" y1="571" x2="772" y2="571"/><line x1="702" y1="593" x2="772" y2="593"/>
<line x1="715" y1="424" x2="715" y2="605"/><line x1="737" y1="424" x2="737" y2="605"/><line x1="759" y1="424" x2="759" y2="605"/>
</g>
<g stroke="#333" stroke-width="0.5">
<circle cx="715" cy="438" r="5.5" fill="#ead8ea"/><circle cx="737" cy="438" r="8" fill="#e82020"/><circle cx="759" cy="438" r="6.5" fill="#f0a898"/>
<circle cx="715" cy="460" r="6.5" fill="#f0a898"/><circle cx="737" cy="460" r="3" fill="#4a48a0"/><circle cx="759" cy="460" r="8" fill="#e82020"/>
<circle cx="715" cy="482" r="5" fill="#b8a0d0"/><circle cx="737" cy="482" r="3" fill="#4a48a0"/><circle cx="759" cy="482" r="6.5" fill="#f0a898"/>
<circle cx="715" cy="504" r="5" fill="#b8a0cc"/><circle cx="737" cy="504" r="5" fill="#b8a0cc"/><circle cx="759" cy="504" r="4.5" fill="#b8a0cc"/>
<circle cx="715" cy="526" r="5.5" fill="#ecd8ea"/><circle cx="737" cy="526" r="5" fill="#b8a8d0"/><circle cx="759" cy="526" r="6" fill="#f8dce0"/>
<circle cx="715" cy="548" r="3" fill="#4a48a0"/><circle cx="737" cy="548" r="0.9" fill="#4a48a0"/><circle cx="759" cy="548" r="3" fill="#4a48a0"/>
<circle cx="715" cy="571" r="3" fill="#4a48a0"/><circle cx="737" cy="571" r="0.9" fill="#4a48a0"/><circle cx="759" cy="571" r="3" fill="#4a48a0"/>
<circle cx="715" cy="593" r="3" fill="#4a48a0"/><circle cx="737" cy="593" r="0.9" fill="#4a48a0"/><circle cx="759" cy="593" r="0.9" fill="#4a48a0"/>
</g>
<g stroke="#333" stroke-width="0.6">
<line x1="699" y1="438" x2="702" y2="438"/><line x1="699" y1="460" x2="702" y2="460"/><line x1="699" y1="482" x2="702" y2="482"/><line x1="699" y1="504" x2="702" y2="504"/><line x1="699" y1="526" x2="702" y2="526"/><line x1="699" y1="548" x2="702" y2="548"/><line x1="699" y1="571" x2="702" y2="571"/><line x1="699" y1="593" x2="702" y2="593"/>
<line x1="715" y1="605" x2="715" y2="608"/><line x1="737" y1="605" x2="737" y2="608"/><line x1="759" y1="605" x2="759" y2="608"/>
</g>
<g font-size="6.8" fill="#222" text-anchor="end">
<text x="698" y="440.5">Lipid metabolism</text>
<text x="698" y="462.5">Amino acid metabolism</text>
<text x="698" y="484.5">Carbohydrate metabolism</text>
<text x="698" y="506.5">Nucleotide metabolism</text>
<text x="698" y="528.5">Metabolism of cofactors and vitamins</text>
<text x="698" y="550.5">Glycan biosynthesis and metabolism</text>
<text x="698" y="573.5">Metabolism of other amino acids</text>
<text x="698" y="595.5">Biosynthesis of other secondary metabolites</text>
<text transform="translate(717,612) rotate(-45)">0 d vs 8 d</text>
<text transform="translate(739,612) rotate(-45)">0 d vs 9 mon</text>
<text transform="translate(761,612) rotate(-45)">8 d vs 9 mon</text>
</g>
<text x="783" y="451" font-size="7" fill="#222">count</text>
<g fill="#fff" stroke="#222" stroke-width="0.6"><circle cx="792" cy="463" r="7"/><circle cx="792" cy="478" r="5.5"/><circle cx="792" cy="490" r="4"/><circle cx="792" cy="500" r="1"/></g>
<g font-size="6.8" fill="#222"><text x="803" y="466">7.5</text><text x="803" y="481">5.0</text><text x="803" y="493">2.5</text><text x="803" y="503">0.0</text></g>
<text x="783" y="527" font-size="7" fill="#222">count</text>
<rect x="783" y="531" width="7" height="56" fill="url(#mcb)"/>
<g font-size="6.8" fill="#222"><text x="796" y="542">7.5</text><text x="796" y="557">5.0</text><text x="796" y="573">2.5</text><text x="796" y="588">0.0</text></g>
<text x="598" y="666" font-size="16" fill="#111" textLength="185" lengthAdjust="spacingAndGlyphs">Metabolomics Analysis</text>

<!-- ================= CORRELATION ================= -->
<rect x="868" y="416" width="388" height="234" fill="none" stroke="#30b030" stroke-width="1.6" stroke-dasharray="3,3"/>
<!-- dashed negative edges -->
<g stroke="#90b0d8" stroke-width="0.8" stroke-dasharray="3,2" fill="none">
<line x1="1039" y1="423" x2="974" y2="530"/><line x1="1039" y1="423" x2="1084" y2="558"/><line x1="1039" y1="423" x2="1091" y2="512"/><line x1="1039" y1="423" x2="1065" y2="483"/>
<line x1="985" y1="438" x2="1065" y2="483"/><line x1="985" y1="438" x2="1084" y2="558"/><line x1="985" y1="438" x2="974" y2="530"/>
<line x1="1093" y1="437" x2="974" y2="530"/><line x1="1093" y1="437" x2="988" y2="571"/><line x1="1093" y1="437" x2="1065" y2="483"/><line x1="1093" y1="437" x2="1084" y2="558"/>
<line x1="945" y1="477" x2="1065" y2="483"/><line x1="945" y1="477" x2="1091" y2="512"/><line x1="945" y1="477" x2="1084" y2="558"/><line x1="945" y1="477" x2="988" y2="571"/>
<line x1="1133" y1="477" x2="974" y2="530"/><line x1="1133" y1="477" x2="1013" y2="485"/><line x1="1133" y1="477" x2="988" y2="571"/><line x1="1133" y1="477" x2="1065" y2="483"/>
<line x1="931" y1="531" x2="1065" y2="483"/><line x1="931" y1="531" x2="1084" y2="558"/><line x1="931" y1="531" x2="1013" y2="485"/>
<line x1="1147" y1="531" x2="974" y2="530"/><line x1="1147" y1="531" x2="988" y2="571"/><line x1="1147" y1="531" x2="1065" y2="483"/>
<line x1="945" y1="585" x2="1065" y2="483"/><line x1="945" y1="585" x2="1084" y2="558"/><line x1="945" y1="585" x2="974" y2="530"/>
<line x1="1133" y1="585" x2="974" y2="530"/><line x1="1133" y1="585" x2="1065" y2="483"/><line x1="1133" y1="585" x2="988" y2="571"/>
<line x1="985" y1="626" x2="1065" y2="483"/><line x1="985" y1="626" x2="974" y2="530"/>
<line x1="1093" y1="626" x2="974" y2="530"/><line x1="1093" y1="626" x2="1065" y2="483"/>
<line x1="1039" y1="640" x2="1065" y2="483"/><line x1="1039" y1="640" x2="974" y2="530"/><line x1="1039" y1="640" x2="1084" y2="558"/><line x1="1039" y1="640" x2="1013" y2="485"/>
</g>
<!-- positive edges -->
<g stroke="#f0a030" stroke-width="1.2" fill="none">
<line x1="1036" y1="585" x2="985" y2="438"/><line x1="1036" y1="585" x2="1039" y2="423"/><line x1="1036" y1="585" x2="945" y2="477"/><line x1="1036" y1="585" x2="931" y2="531"/><line x1="1036" y1="585" x2="1133" y2="477"/><line x1="1036" y1="585" x2="1133" y2="585"/><line x1="1036" y1="585" x2="945" y2="585"/><line x1="1036" y1="585" x2="1039" y2="640"/><line x1="1036" y1="585" x2="1093" y2="437"/>
<line x1="1013" y1="485" x2="1093" y2="437"/><line x1="1091" y1="512" x2="1093" y2="437"/><line x1="1091" y1="512" x2="1147" y2="531"/>
<line x1="988" y1="571" x2="985" y2="626"/><line x1="988" y1="571" x2="1093" y2="626"/>
</g>
<!-- nodes -->
<g fill="#1a5aa0">
<circle cx="1039" cy="423" r="4"/><circle cx="985" cy="438" r="4"/><circle cx="1093" cy="437" r="4.5"/><circle cx="945" cy="477" r="4"/><circle cx="1133" cy="477" r="4"/><circle cx="931" cy="531" r="4"/><circle cx="1147" cy="531" r="3.5"/><circle cx="945" cy="585" r="4"/><circle cx="1133" cy="585" r="4"/><circle cx="985" cy="626" r="3"/><circle cx="1093" cy="626" r="3"/><circle cx="1039" cy="640" r="4"/>
</g>
<g fill="#d04a18">
<circle cx="1013" cy="485" r="3.5"/><circle cx="1065" cy="483" r="7.5"/><circle cx="1091" cy="512" r="3.5"/><circle cx="974" cy="530" r="7.5"/><circle cx="1084" cy="558" r="8.5"/><circle cx="988" cy="571" r="4"/><circle cx="1036" cy="585" r="8.5"/>
</g>
<g font-size="4.2" fill="#222" text-anchor="middle">
<text x="1039" y="431" fill="#e03040">Hexanol</text><text x="985" y="446">Butanal</text><text x="1097" y="445">Octanal</text><text x="940" y="485">Propanal</text><text x="1137" y="485" fill="#e03040">Heptanal</text><text x="925" y="540" fill="#e03040">Pentanol</text><text x="1148" y="538">Nonanal</text><text x="948" y="594">Ethyl acetate</text><text x="1137" y="594" fill="#e03040">Dimethyl sulfide</text><text x="985" y="634">1-Octen-3-ol</text><text x="1097" y="634">Hexyl propionate</text><text x="1039" y="648">Thiophene</text>
<text x="1013" y="487">N-acetylputrescine</text><text x="1065" y="485">Tetradecene</text><text x="1092" y="514">Isovalerylcarnitine</text><text x="976" y="532" font-style="italic">Glycerol 3-phosphate</text><text x="1085" y="560" font-size="5">L-palmitoylcarnitine</text><text x="987" y="573">1-palmitoyl-sn-glycero-3-phosphocholine</text><text x="1036" y="587">Proline</text>
</g>
<!-- legend -->
<text x="1155" y="452" font-size="10" fill="#222">Type</text>
<circle cx="1167" cy="460" r="5.5" fill="#d42020"/><text x="1177" y="463" font-size="6.5" fill="#222">Metabolites</text>
<circle cx="1167" cy="476" r="5.5" fill="#1a5aa0"/><text x="1177" y="473" font-size="6.5" fill="#222">Volatile organic</text><text x="1177" y="481" font-size="6.5" fill="#222">compounds</text>
<text x="1155" y="506" font-size="10" fill="#222">Degree</text>
<circle cx="1167" cy="516" r="5.5" fill="#1a1614"/><circle cx="1167" cy="532" r="4.5" fill="#1a1614"/><circle cx="1167" cy="546" r="3.5" fill="#1a1614"/><circle cx="1167" cy="558" r="2.5" fill="#1a1614"/>
<g font-size="6.5" fill="#222"><text x="1178" y="519">10</text><text x="1178" y="535">8</text><text x="1178" y="549">4</text><text x="1178" y="561">1</text></g>
<text x="1155" y="579" font-size="9" fill="#222">abs(rho)</text>
<line x1="1155" y1="584" x2="1175" y2="584" stroke="#111" stroke-width="1.2"/><line x1="1155" y1="590" x2="1175" y2="590" stroke="#111" stroke-width="0.9"/><line x1="1155" y1="596" x2="1175" y2="596" stroke="#111" stroke-width="0.6"/>
<g font-size="4.5" fill="#333"><text x="1177" y="586">0.928</text><text x="1177" y="592">0.732</text><text x="1177" y="598">0.637</text></g>
<text x="1155" y="621" font-size="9" fill="#222">Relation</text>
<line x1="1155" y1="628" x2="1178" y2="628" stroke="#f0a030" stroke-width="1.2"/><text x="1178" y="631" font-size="6.5" fill="#222">Positive</text>
<line x1="1155" y1="638" x2="1178" y2="638" stroke="#90b0d8" stroke-width="1" stroke-dasharray="3,2"/><text x="1178" y="641" font-size="6.5" fill="#222">Negative</text>
<text x="973" y="666" font-size="16" fill="#111" textLength="163" lengthAdjust="spacingAndGlyphs">Correlation Analysis</text>
</svg>
</body></html>
